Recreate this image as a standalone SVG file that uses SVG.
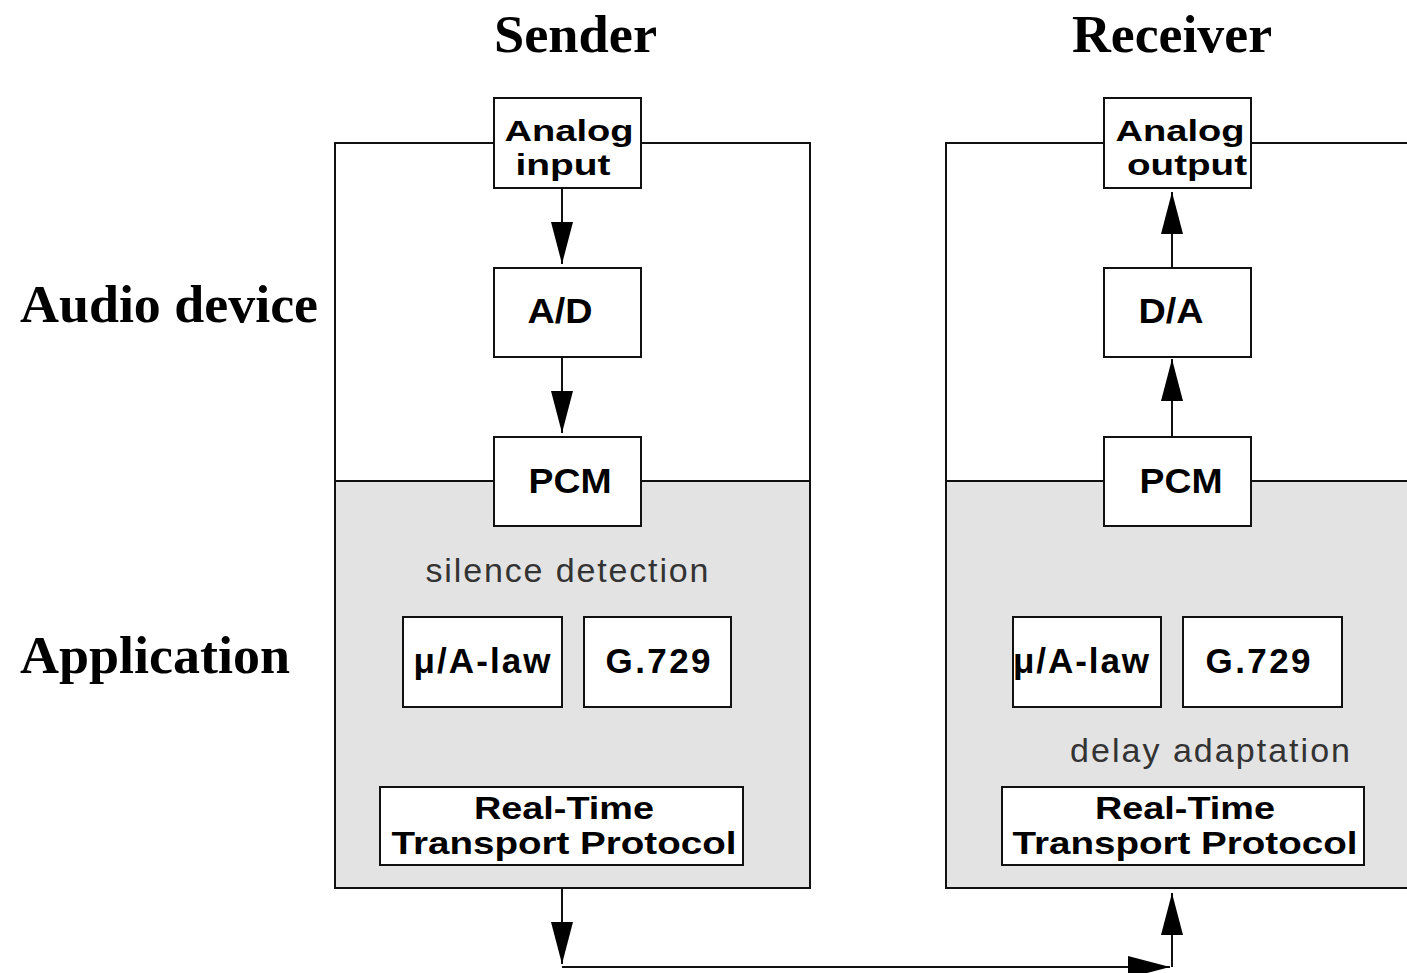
<svg xmlns="http://www.w3.org/2000/svg" width="1407" height="973" viewBox="0 0 1407 973">
<style>
.frame{fill:#fff;stroke:#111;stroke-width:2}
.app{fill:#e3e3e3;stroke:#111;stroke-width:2}
.box{fill:#fff;stroke:#111;stroke-width:2}
.lbl{font-family:"Liberation Sans",Arial,sans-serif;font-weight:bold;font-size:35px;fill:#000;text-anchor:middle}
.lbl2{font-family:"Liberation Sans",Arial,sans-serif;font-weight:bold;font-size:30px;fill:#000;text-anchor:middle}
.lbl3{font-family:"Liberation Sans",Arial,sans-serif;font-weight:bold;font-size:31px;fill:#000;text-anchor:middle}
.note{font-family:"Liberation Sans",Arial,sans-serif;font-size:34px;fill:#333;text-anchor:middle}
.title{font-family:"Liberation Serif","Times New Roman",serif;font-weight:bold;font-size:52px;fill:#000}
.conn{fill:none;stroke:#111;stroke-width:2}
</style>
<defs>
<marker id="ah" markerUnits="userSpaceOnUse" markerWidth="44" markerHeight="24" refX="42" refY="11" orient="auto">
<path d="M0,0 L42,11 L0,22 Z" fill="#000"/>
</marker>
</defs>
<rect width="1407" height="973" fill="#fff"/>
<g id="titles">
<text class="title" x="494" y="52" textLength="163" lengthAdjust="spacingAndGlyphs">Sender</text>
<text class="title" x="1072" y="52" textLength="200" lengthAdjust="spacingAndGlyphs">Receiver</text>
<text class="title" x="20" y="322" textLength="298" lengthAdjust="spacingAndGlyphs">Audio device</text>
<text class="title" x="20" y="673" textLength="270" lengthAdjust="spacingAndGlyphs">Application</text>
</g>
<g id="sender-frame">
<rect class="frame" x="335" y="143" width="475" height="338"/>
<rect class="app" x="335" y="481" width="475" height="407"/>
<text class="note" x="567" y="582" textLength="283" lengthAdjust="spacing">silence detection</text>
</g>
<g id="receiver-frame">
<rect class="frame" x="946" y="143" width="480" height="338"/>
<rect class="app" x="946" y="481" width="480" height="407"/>
<text class="note" x="1210" y="762" textLength="280" lengthAdjust="spacing">delay adaptation</text>
</g>
<g id="connectors">
<line class="conn" x1="562" y1="188" x2="562" y2="264" marker-end="url(#ah)"/>
<line class="conn" x1="562" y1="357" x2="562" y2="433" marker-end="url(#ah)"/>
<line class="conn" x1="1172" y1="437" x2="1172" y2="359" marker-end="url(#ah)"/>
<line class="conn" x1="1172" y1="268" x2="1172" y2="192" marker-end="url(#ah)"/>
<line class="conn" x1="562" y1="888" x2="562" y2="964" marker-end="url(#ah)"/>
<line class="conn" x1="562" y1="967" x2="1170" y2="967" marker-end="url(#ah)"/>
<line class="conn" x1="1172" y1="967" x2="1172" y2="893" marker-end="url(#ah)"/>
</g>
<g id="analog-input">
<rect class="box" x="494" y="98" width="147" height="90"/>
<text class="lbl2" x="569" y="141" textLength="129" lengthAdjust="spacingAndGlyphs">Analog</text>
<text class="lbl2" x="563" y="175" textLength="95" lengthAdjust="spacingAndGlyphs">input</text>
</g>
<g id="ad">
<rect class="box" x="494" y="268" width="147" height="89"/>
<text class="lbl" x="560" y="323" textLength="65" lengthAdjust="spacingAndGlyphs">A/D</text>
</g>
<g id="pcm-s">
<rect class="box" x="494" y="437" width="147" height="89"/>
<text class="lbl" x="570" y="493" textLength="83" lengthAdjust="spacingAndGlyphs">PCM</text>
</g>
<g id="ulaw-s">
<rect class="box" x="403" y="617" width="159" height="90"/>
<text class="lbl" x="482" y="673" textLength="137" lengthAdjust="spacing">μ/A-law</text>
</g>
<g id="g729-s">
<rect class="box" x="584" y="617" width="147" height="90"/>
<text class="lbl" x="658" y="673" textLength="105" lengthAdjust="spacing">G.729</text>
</g>
<g id="rtp-s">
<rect class="box" x="380" y="787" width="363" height="78"/>
<text class="lbl3" x="564" y="819" textLength="180" lengthAdjust="spacingAndGlyphs">Real-Time</text>
<text class="lbl3" x="564" y="854" textLength="345" lengthAdjust="spacingAndGlyphs">Transport Protocol</text>
</g>
<g id="analog-output">
<rect class="box" x="1104" y="98" width="147" height="90"/>
<text class="lbl2" x="1180" y="141" textLength="129" lengthAdjust="spacingAndGlyphs">Analog</text>
<text class="lbl2" x="1187" y="175" textLength="120" lengthAdjust="spacingAndGlyphs">output</text>
</g>
<g id="da">
<rect class="box" x="1104" y="268" width="147" height="89"/>
<text class="lbl" x="1171" y="323" textLength="65" lengthAdjust="spacingAndGlyphs">D/A</text>
</g>
<g id="pcm-r">
<rect class="box" x="1104" y="437" width="147" height="89"/>
<text class="lbl" x="1181" y="493" textLength="83" lengthAdjust="spacingAndGlyphs">PCM</text>
</g>
<g id="ulaw-r">
<rect class="box" x="1013" y="617" width="148" height="90"/>
<text class="lbl" x="1081" y="673" textLength="136" lengthAdjust="spacing">μ/A-law</text>
</g>
<g id="g729-r">
<rect class="box" x="1183" y="617" width="159" height="90"/>
<text class="lbl" x="1258" y="673" textLength="105" lengthAdjust="spacing">G.729</text>
</g>
<g id="rtp-r">
<rect class="box" x="1002" y="787" width="362" height="78"/>
<text class="lbl3" x="1185" y="819" textLength="180" lengthAdjust="spacingAndGlyphs">Real-Time</text>
<text class="lbl3" x="1185" y="854" textLength="345" lengthAdjust="spacingAndGlyphs">Transport Protocol</text>
</g>
</svg>
